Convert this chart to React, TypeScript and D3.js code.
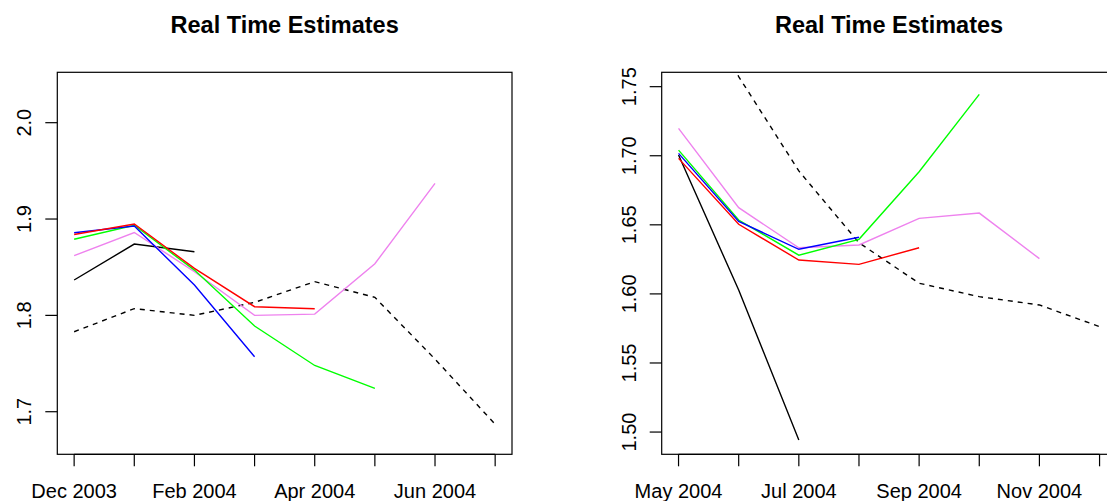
import React from "react";
import * as d3 from "d3";

// ---------- data ----------
const monthsLeft = ["Dec 2003", "Jan 2004", "Feb 2004", "Mar 2004", "Apr 2004", "May 2004", "Jun 2004", "Jul 2004"];
const monthsRight = ["May 2004", "Jun 2004", "Jul 2004", "Aug 2004", "Sep 2004", "Oct 2004", "Nov 2004", "Dec 2004"];

const actualLeft = [1.783, 1.807, 1.800, 1.8135, 1.835, 1.8187, 1.7546, 1.687];
const blackLeft = [1.8367, 1.874, 1.866];
const blueLeft = [1.8858, 1.8927, 1.8315, 1.757];
const redLeft = [1.884, 1.8948, 1.8488, 1.809, 1.8069];
const greenLeft = [1.879, 1.8935, 1.847, 1.789, 1.748, 1.7242];
const violetLeft = [1.862, 1.886, 1.8453, 1.800, 1.8013, 1.8536, 1.937];

const actualRight = [1.85, 1.7573, 1.689, 1.637, 1.6077, 1.598, 1.592, 1.5763];
const blackRight = [1.7005, 1.6028, 1.4943];
const blueRight = [1.7017, 1.6525, 1.6323, 1.641];
const redRight = [1.6981, 1.6504, 1.6245, 1.6214, 1.6334];
const greenRight = [1.7041, 1.6535, 1.628, 1.6395, 1.6884, 1.7444];
const violetRight = [1.7198, 1.6624, 1.6334, 1.6354, 1.6547, 1.6585, 1.6255];

const yTicksLeft = [1.7, 1.8, 1.9, 2.0];
const yTickLabelsLeft = ["1.7", "1.8", "1.9", "2.0"];
const yTicksRight = [1.5, 1.55, 1.6, 1.65, 1.7, 1.75];
const yTickLabelsRight = ["1.50", "1.55", "1.60", "1.65", "1.70", "1.75"];

const titleText = "Real Time Estimates";

type Series = { values: number[]; color: string; dashed?: boolean };

const seriesLeft: Series[] = [
  { values: actualLeft, color: "#000000", dashed: true },
  { values: blackLeft, color: "#000000" },
  { values: violetLeft, color: "#EE82EE" },
  { values: greenLeft, color: "#00FF00" },
  { values: blueLeft, color: "#0000FF" },
  { values: redLeft, color: "#FF0000" },
];
const seriesRight: Series[] = [
  { values: actualRight, color: "#000000", dashed: true },
  { values: blackRight, color: "#000000" },
  { values: violetRight, color: "#EE82EE" },
  { values: redRight, color: "#FF0000" },
  { values: greenRight, color: "#00FF00" },
  { values: blueRight, color: "#0000FF" },
];

const FONT = "'Liberation Sans', Arial, Helvetica, sans-serif";

type PanelProps = {
  id: string;
  left: number;
  right: number;
  top: number;
  bottom: number;
  yDomain: [number, number];
  months: string[];
  series: Series[];
  yTicks: number[];
  yTickLabels: string[];
};

function Panel(p: PanelProps) {
  const n = p.months.length;
  const ext = (n - 1) * 0.04;
  const x = d3.scaleLinear().domain([-ext, n - 1 + ext]).range([p.left, p.right]);
  const y = d3.scaleLinear().domain(p.yDomain).range([p.bottom, p.top]);
  const line = d3
    .line<number>()
    .x((_, i) => x(i))
    .y((d) => y(d));
  const tickLen = 12;
  return (
    <g>
      <defs>
        <clipPath id={`clip-${p.id}`}>
          <rect x={p.left} y={p.top} width={p.right - p.left} height={p.bottom - p.top} />
        </clipPath>
      </defs>
      <text
        x={(p.left + p.right) / 2}
        y={33.3}
        textAnchor="middle"
        fontFamily={FONT}
        fontWeight="bold"
        fontSize={23.5}
      >
        {titleText}
      </text>
      <g clipPath={`url(#clip-${p.id})`}>
        {p.series.map((s, i) => (
          <path
            key={i}
            d={line(s.values) || ""}
            fill="none"
            stroke={s.color}
            strokeWidth={1.4}
            strokeDasharray={s.dashed ? "5,5" : undefined}
          />
        ))}
      </g>
      <rect
        x={p.left}
        y={p.top}
        width={p.right - p.left}
        height={p.bottom - p.top}
        fill="none"
        stroke="#000"
        strokeWidth={1.2}
      />
      {/* x axis */}
      <line x1={x(0)} x2={x(n - 1)} y1={p.bottom} y2={p.bottom} stroke="#000" strokeWidth={1.2} />
      {p.months.map((m, i) => (
        <g key={m}>
          <line x1={x(i)} x2={x(i)} y1={p.bottom} y2={p.bottom + tickLen} stroke="#000" strokeWidth={1.2} />
          {i % 2 === 0 && (
            <text x={x(i)} y={498} textAnchor="middle" fontFamily={FONT} fontSize={20}>
              {m}
            </text>
          )}
        </g>
      ))}
      {/* y axis */}
      {p.yTicks.map((t, i) => (
        <g key={t}>
          <line x1={p.left - tickLen} x2={p.left} y1={y(t)} y2={y(t)} stroke="#000" strokeWidth={1.2} />
          <text
            transform={`translate(${p.left - 26},${y(t)}) rotate(-90)`}
            textAnchor="middle"
            fontFamily={FONT}
            fontSize={20}
          >
            {p.yTickLabels[i]}
          </text>
        </g>
      ))}
    </g>
  );
}

export default function App() {
  return (
    <svg
      width={1107}
      height={501}
      style={{ position: "absolute", left: 0, top: 0, background: "#fff" }}
    >
      <rect x={0} y={0} width={1107} height={501} fill="#fff" />
      <Panel
        id="L"
        left={57.3}
        right={512}
        top={72.3}
        bottom={454.3}
        yDomain={[1.6558, 2.0523]}
        months={monthsLeft}
        series={seriesLeft}
        yTicks={yTicksLeft}
        yTickLabels={yTickLabelsLeft}
      />
      <Panel
        id="R"
        left={661.7}
        right={1116.4}
        top={72.3}
        bottom={454.3}
        yDomain={[1.4839, 1.7604]}
        months={monthsRight}
        series={seriesRight}
        yTicks={yTicksRight}
        yTickLabels={yTickLabelsRight}
      />
    </svg>
  );
}
